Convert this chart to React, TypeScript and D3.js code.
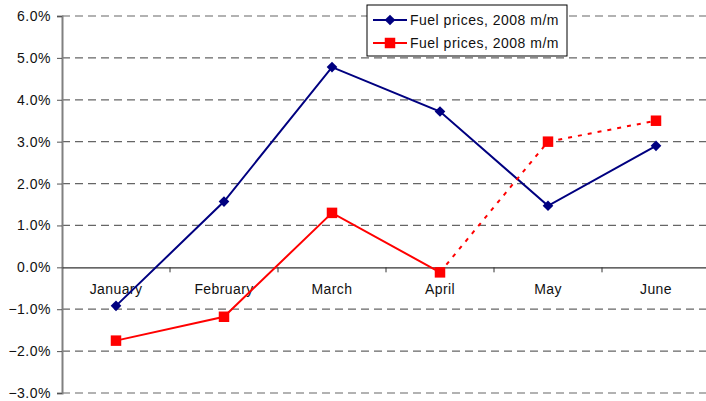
import React, { useEffect, useRef } from "react";
import * as d3 from "d3";

const months = ["January", "February", "March", "April", "May", "June"];
const fuelBlue = [-0.92, 1.57, 4.78, 3.72, 1.47, 2.9];
const fuelRed = [-1.75, -1.18, 1.3, -0.12, 3.0, 3.5];
const yTicks = [6, 5, 4, 3, 2, 1, 0, -1, -2, -3];
const legendLabels = ["Fuel prices, 2008 m/m", "Fuel prices, 2008 m/m"];

const App = () => {
  const ref = useRef<SVGSVGElement>(null);

  useEffect(() => {
    const svg = d3.select(ref.current);
    svg.selectAll("*").remove();

    const left = 62;
    const right = 710;
    const x = d3.scaleBand().domain(months).range([left, right]);
    const y = d3.scaleLinear().domain([-3, 6]).range([393, 16]);
    const font = "'Liberation Sans', Arial, sans-serif";

    // dashed grid
    svg
      .append("g")
      .selectAll("line")
      .data(yTicks.filter((d) => d !== 0))
      .join("line")
      .attr("x1", left)
      .attr("x2", 706)
      .attr("y1", (d) => y(d))
      .attr("y2", (d) => y(d))
      .attr("stroke", "#666")
      .attr("stroke-width", 1.2)
      .attr("stroke-dasharray", "8,5");

    // y axis
    const yAxis = svg
      .append("g")
      .attr("transform", `translate(${left},0)`)
      .call(
        d3
          .axisLeft(y)
          .tickValues(yTicks)
          .tickSize(5)
          .tickPadding(6)
          .tickFormat((d) => d3.format(".1f")(d as number) + "%")
      );
    yAxis.select(".domain").attr("stroke", "#808080").attr("stroke-width", 2);
    yAxis.selectAll(".tick line").attr("stroke", "#555");
    yAxis
      .selectAll("text")
      .attr("font-family", font)
      .attr("font-size", 14)
      .attr("letter-spacing", 0.5)
      .attr("fill", "#111");

    // x axis at zero
    const xAxis = svg
      .append("g")
      .attr("transform", `translate(0,${y(0)})`)
      .call(d3.axisBottom(x).tickSize(0).tickPadding(17));
    xAxis.select(".domain").attr("stroke", "#333").attr("stroke-width", 1.2);
    xAxis
      .selectAll("text")
      .attr("font-family", font)
      .attr("font-size", 14)
      .attr("letter-spacing", 0.4)
      .attr("fill", "#111");
    xAxis
      .append("g")
      .selectAll("line")
      .data(months.slice(1))
      .join("line")
      .attr("x1", (d) => x(d)!)
      .attr("x2", (d) => x(d)!)
      .attr("y1", 0)
      .attr("y2", 5)
      .attr("stroke", "#333");

    const cx = (i: number) => x(months[i])! + x.bandwidth() / 2;
    const line = d3
      .line<number>()
      .x((_, i) => cx(i))
      .y((d) => y(d));

    // blue series
    svg
      .append("path")
      .datum(fuelBlue)
      .attr("d", line)
      .attr("fill", "none")
      .attr("stroke", "#000080")
      .attr("stroke-width", 2);

    // red series: solid up to April, dotted after
    svg
      .append("path")
      .datum(fuelRed.slice(0, 4))
      .attr("d", line)
      .attr("fill", "none")
      .attr("stroke", "#ff0000")
      .attr("stroke-width", 2);
    const redLine2 = d3
      .line<number>()
      .x((_, i) => cx(i + 3))
      .y((d) => y(d));
    svg
      .append("path")
      .datum(fuelRed.slice(3))
      .attr("d", redLine2)
      .attr("fill", "none")
      .attr("stroke", "#ff0000")
      .attr("stroke-width", 2)
      .attr("stroke-dasharray", "4,6");

    const diamond = d3.symbol().type(d3.symbolDiamond2).size(72);
    const square = d3.symbol().type(d3.symbolSquare).size(110);

    svg
      .append("g")
      .selectAll("path")
      .data(fuelBlue)
      .join("path")
      .attr("d", diamond)
      .attr("transform", (d, i) => `translate(${cx(i)},${y(d)})`)
      .attr("fill", "#000080");

    svg
      .append("g")
      .selectAll("path")
      .data(fuelRed)
      .join("path")
      .attr("d", square)
      .attr("transform", (d, i) => `translate(${cx(i)},${y(d)})`)
      .attr("fill", "#ff0000");

    // legend
    const lg = svg.append("g").attr("transform", "translate(367,5)");
    lg.append("rect")
      .attr("width", 200)
      .attr("height", 51)
      .attr("fill", "#fff")
      .attr("stroke", "#000")
      .attr("stroke-width", 1);
    const colors = ["#000080", "#ff0000"];
    const syms = [diamond, square];
    legendLabels.forEach((label, i) => {
      const ly = 15 + i * 23;
      lg.append("line")
        .attr("x1", 6)
        .attr("x2", 40)
        .attr("y1", ly)
        .attr("y2", ly)
        .attr("stroke", colors[i])
        .attr("stroke-width", 2);
      lg.append("path")
        .attr("d", syms[i])
        .attr("transform", `translate(23,${ly})`)
        .attr("fill", colors[i]);
      lg.append("text")
        .attr("x", 43)
        .attr("y", ly)
        .attr("dy", "0.35em")
        .attr("font-family", font)
        .attr("font-size", 14)
        .attr("letter-spacing", 0.5)
        .attr("fill", "#111")
        .text(label);
    });
  }, []);

  return (
    <svg
      ref={ref}
      width={706}
      height={401}
      style={{ position: "absolute", left: 0, top: 0, background: "#fff" }}
    />
  );
};

export default App;
